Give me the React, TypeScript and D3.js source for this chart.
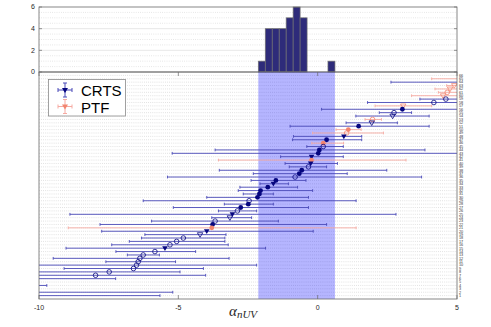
import React from 'react';
import * as d3 from 'd3';

// rows of the main panel, top to bottom
const rowIds = [65, 64, 63, 62, 61, 60, 59, 58, 57, 56, 55, 54, 53, 52, 51, 50, 49, 48, 47, 46, 45, 44, 43, 42, 41, 40,
  39, 38, 37, 36, 35, 34, 33, 32, 31, 30, 29, 28, 27, 26, 25, 24, 23, 22, 21, 20, 19, 18, 17, 16, 15, 14, 13, 12, 11,
  10, 9, 8, 7, 6, 4, 2, 1];
const alphaVals = [5.5, 5.6, 4.9, 4.75, 4.65, 4.5, 4.6, 4.17, 3.07, 3.04, 2.74, 2.69, 1.97, 1.94, 1.47, 1.1, 1.04, 0.94,
  0.32, 0.2, 0.2, 0.06, 0.02, -0.22, -0.22, -0.25, -0.33, -0.57, -0.66, -0.81, -1.5, -1.59, -1.79, -2.05, -2.09, -2.16,
  -2.46, -2.49, -2.76, -2.88, -3.06, -3.15, -3.68, -3.77, -3.8, -3.98, -4.22, -4.82, -5.06, -5.3, -5.48, -5.84, -6.26,
  -6.38, -6.44, -6.5, -6.61, -7.48, -7.97, -10.8, -11, -10.9, -11.2];
const alphaLo = [4.09, 2.63, 4.63, 4.21, 4.33, 3.37, 3.67, 1.79, 2.06, 0.14, 2.21, 1.37, 1.7, 1.02, -0.99, 0.66, -0.18,
  -0.87, -0.9, -0.21, -0.39, -3.68, -5.22, -1.33, -3.56, -1.17, -1.02, -3.53, -2.31, -5.39, -2.39, -2.07, -2.79, -2.85,
  -2.67, -3.98, -6.26, -3.35, -5.18, -3.56, -8.89, -3.8, -5.96, -7.81, -8.95, -7.75, -6.2, -6.32, -6.76, -7.39, -9.03,
  -7.24, -6.83, -9.49, -7.6, -10.5, -9.1, -10.5, -11, -12, -12, -13, -14];
const alphaHi = [6, 6, 6, 6, 6, 6, 6, 6, 4.09, 6, 3.37, 4.0, 2.29, 2.86, 4.0, 1.56, 2.36, 1.58, 1.58, 0.93, 0.92, 3.85,
  6, 0.92, 3.17, 0.71, 0.32, 2.48, 1.06, 3.73, -0.42, -1.05, -0.72, -0.18, -1.59, -0.33, 1.38, -1.59, -0.33, -2.19,
  2.81, -2.37, -1.41, 0.32, 1.38, -0.16, -3.29, -3.33, -3.33, -3.21, -1.87, -4.38, -5.68, -3.18, -5.1, -2.19, -4.1,
  -4.94, -4.02, -7.25, -9.72, -5.2, -5.66];
const surveys = ['PTF', 'CRTS', 'PTF', 'PTF', 'PTF', 'PTF', 'CRTS', 'CRTS', 'PTF', 'CRTS', 'CRTS', 'CRTS', 'PTF', 'CRTS',
  'CRTS', 'PTF', 'PTF', 'CRTS', 'CRTS', 'PTF', 'CRTS', 'CRTS', 'CRTS', 'CRTS', 'PTF', 'CRTS', 'CRTS', 'CRTS', 'CRTS',
  'CRTS', 'CRTS', 'CRTS', 'CRTS', 'CRTS', 'CRTS', 'CRTS', 'CRTS', 'CRTS', 'CRTS', 'CRTS', 'CRTS', 'CRTS', 'CRTS',
  'CRTS', 'PTF', 'CRTS', 'CRTS', 'CRTS', 'CRTS', 'CRTS', 'CRTS', 'CRTS', 'CRTS', 'CRTS', 'CRTS', 'CRTS', 'CRTS',
  'CRTS', 'CRTS', 'CRTS', 'CRTS', 'CRTS', 'CRTS'];
// fc filled circle, oc open circle, ft filled triangle, ot open triangle
const markers = ['oc', 'oc', 'ot', 'ot', 'oc', 'ot', 'oc', 'oc', 'ot', 'fc', 'oc', 'ot', 'oc', 'ot', 'fc', 'fc', 'oc',
  'ft', 'fc', 'fc', 'oc', 'fc', 'fc', 'ft', 'fc', 'ft', 'oc', 'fc', 'fc', 'oc', 'fc', 'ft', 'fc', 'fc', 'fc', 'fc', 'oc',
  'fc', 'fc', 'oc', 'ft', 'ot', 'oc', 'fc', 'fc', 'ft', 'ot', 'oc', 'oc', 'oc', 'ft', 'oc', 'oc', 'oc', 'oc', 'oc', 'oc',
  'oc', 'oc', 'oc', 'oc', 'oc', 'oc'];

// histogram of alpha
const histStart = -2.13;
const histWidth = 0.25;
const histCounts = [1, 4, 4, 4, 5, 6, 5, 0, 0, 0, 1];

const xTicks = [-10, -5, 0, 5];
const histTicks = [0, 2, 4, 6];
const rowLabels = d3.range(1, 67);

const colors = {
  CRTS: { bar: '#4a4ab8', mark: '#06067f' },
  PTF: { bar: '#f6aaa2', mark: '#f2856f' },
};

export default function App() {
  const left = 39, right = 457;
  const x = d3.scaleLinear().domain([-10, 5]).range([left, right]);
  const y = d3.scaleLinear().domain([0, 67]).range([299, 72]);
  const yh = d3.scaleLinear().domain([0, 6]).range([72, 7]);

  const rows = rowIds.map((r, i) => ({
    r, v: alphaVals[i], lo: alphaLo[i], hi: alphaHi[i], s: surveys[i], m: markers[i],
  }));

  const histEnd = histStart + histWidth * histCounts.length;
  const axisCol = '#6a6a6a';
  const font = 'Liberation Sans, Arial, sans-serif';

  const tri = (cx, cy, s) => `M${cx - s},${cy - s * 0.7}L${cx + s},${cy - s * 0.7}L${cx},${cy + s}Z`;

  const marker = (d, i) => {
    const cx = x(d.v), cy = y(d.r);
    const c = colors[d.s].mark;
    if (d.m === 'fc') return <circle key={'m' + i} cx={cx} cy={cy} r={2.4} fill={c} />;
    if (d.m === 'oc') return <circle key={'m' + i} cx={cx} cy={cy} r={2.3} fill="none" stroke={c} strokeWidth={0.8} />;
    if (d.m === 'ft') return <path key={'m' + i} d={tri(cx, cy, 2.8)} fill={c} />;
    return <path key={'m' + i} d={tri(cx, cy, 2.7)} fill="none" stroke={c} strokeWidth={0.8} />;
  };

  const legendIcon = (cx, cy, s) => (
    <g>
      <line x1={cx - 7} x2={cx + 7} y1={cy} y2={cy} stroke={colors[s].bar} />
      <line x1={cx - 7} x2={cx - 7} y1={cy - 2} y2={cy + 2} stroke={colors[s].bar} />
      <line x1={cx + 7} x2={cx + 7} y1={cy - 2} y2={cy + 2} stroke={colors[s].bar} />
      <line x1={cx} x2={cx} y1={cy - 7} y2={cy + 7} stroke={colors[s].bar} />
      <line x1={cx - 2} x2={cx + 2} y1={cy - 7} y2={cy - 7} stroke={colors[s].bar} />
      <line x1={cx - 2} x2={cx + 2} y1={cy + 7} y2={cy + 7} stroke={colors[s].bar} />
      <path d={tri(cx, cy, 3)} fill={colors[s].mark} />
    </g>
  );

  return (
    <svg width={491} height={327} style={{ position: 'absolute', left: 0, top: 0, background: '#fff' }}>
      <defs>
        <clipPath id="main-clip">
          <rect x={left} y={72} width={right - left} height={227} />
        </clipPath>
      </defs>

      {/* histogram panel */}
      <g className="hist">
        {d3.range(0.5, 6, 0.5).filter(v => v % 2 !== 0).map(v => (
          <line key={'hg' + v} x1={left} x2={right} y1={yh(v)} y2={yh(v)} stroke="#cfcfcf" strokeWidth={0.6}
            strokeDasharray="0.8,1.4" />
        ))}
        {[2, 4].map(v => (
          <line key={'hm' + v} x1={left} x2={right} y1={yh(v)} y2={yh(v)} stroke="#e2e2e2" strokeWidth={0.8} />
        ))}
        {histCounts.map((c, i) => c > 0 && (
          <rect key={'hb' + i} x={x(histStart + i * histWidth)} y={yh(c)}
            width={x(histStart + (i + 1) * histWidth) - x(histStart + i * histWidth)} height={yh(0) - yh(c)}
            fill="#2e2b7a" stroke="#707070" strokeWidth={0.7} />
        ))}
        <rect x={left} y={yh(6)} width={right - left} height={yh(0) - yh(6)} fill="none" stroke={axisCol} strokeWidth={0.8} />
        {histTicks.map(t => (
          <g key={'ht' + t}>
            <line x1={left} x2={left + 3} y1={yh(t)} y2={yh(t)} stroke={axisCol} strokeWidth={0.7} />
            <line x1={right - 3} x2={right} y1={yh(t)} y2={yh(t)} stroke={axisCol} strokeWidth={0.7} />
            <text x={35} y={yh(t)} dy="0.35em" textAnchor="end" fontSize={7} fontFamily={font} fill="#262626">{t}</text>
          </g>
        ))}
      </g>

      {/* main panel */}
      <g className="main">
        {rowLabels.map(r => (
          <line key={'rg' + r} x1={left} x2={right} y1={y(r)} y2={y(r)} stroke="#c4c4c4" strokeWidth={0.6}
            strokeDasharray="0.8,1.3" />
        ))}
        <rect x={x(histStart)} y={72} width={x(histEnd) - x(histStart)} height={227} fill="#0000ff" opacity={0.29} />
        <g clipPath="url(#main-clip)">
          {rows.map((d, i) => {
            const c = colors[d.s].bar;
            const yy = y(d.r);
            return (
              <g key={'eb' + i}>
                <line x1={x(d.lo)} x2={x(d.hi)} y1={yy} y2={yy} stroke={c} strokeWidth={0.9} />
                <line x1={x(d.lo)} x2={x(d.lo)} y1={yy - 1.4} y2={yy + 1.4} stroke={c} strokeWidth={0.9} />
                <line x1={x(d.hi)} x2={x(d.hi)} y1={yy - 1.4} y2={yy + 1.4} stroke={c} strokeWidth={0.9} />
              </g>
            );
          })}
          {rows.map(marker)}
        </g>
        <rect x={left} y={72} width={right - left} height={227} fill="none" stroke={axisCol} strokeWidth={0.8} />
        {xTicks.map(t => (
          <g key={'xt' + t}>
            <line x1={x(t)} x2={x(t)} y1={299} y2={295} stroke={axisCol} strokeWidth={0.7} />
            <line x1={x(t)} x2={x(t)} y1={72} y2={76} stroke={axisCol} strokeWidth={0.7} />
            <text x={x(t)} y={310} textAnchor="middle" fontSize={7} fontFamily={font} fill="#262626">{t}</text>
          </g>
        ))}
        {rowLabels.map(r => (
          <text key={'rl' + r} x={459} y={y(r)} dy="0.35em" fontSize={3.8} fontFamily={font} fill="#333">{r}</text>
        ))}
        <text x={229} y={316} fontFamily="Liberation Serif, serif" fontStyle="italic" fill="#262626">
          <tspan fontSize={15}>α</tspan>
          <tspan fontSize={11} dy={2}>nUV</tspan>
        </text>
      </g>

      {/* legend */}
      <g className="legend">
        <rect x={48.5} y={79.5} width={77} height={36.5} fill="#fff" stroke="#8a8a8a" strokeWidth={0.8} />
        {legendIcon(65, 90, 'CRTS')}
        {legendIcon(65, 106.5, 'PTF')}
        <text x={81} y={96} fontSize={15} fontFamily={font} fill="#000">CRTS</text>
        <text x={81} y={112.5} fontSize={15} fontFamily={font} fill="#000">PTF</text>
      </g>
    </svg>
  );
}
